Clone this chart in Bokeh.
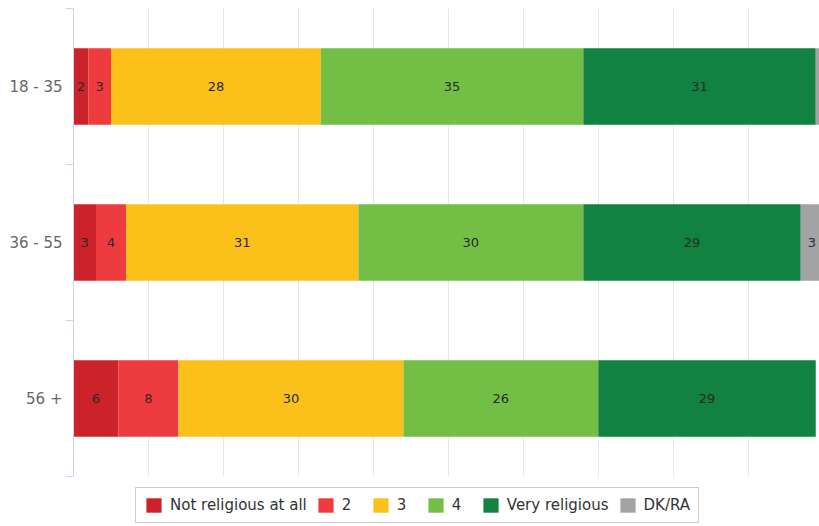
from bokeh.plotting import figure
from bokeh.models import ColumnDataSource, FixedTicker, Legend, LegendItem
from bokeh.core.properties import value
from bokeh.embed import file_html
from bokeh.resources import INLINE

categories = ["18 - 35", "36 - 55", "56 +"]
series_names = ["Not religious at all", "2", "3", "4", "Very religious", "DK/RA"]
not_religious = [2, 3, 6]
s2 = [3, 4, 8]
s3 = [28, 31, 30]
s4 = [35, 30, 26]
very_religious = [31, 29, 29]
dk_ra = [1, 3, 0]
colors = ["#cc2229", "#ee3b40", "#fbc11a", "#73bf45", "#11823f", "#a3a3a3"]

series = [not_religious, s2, s3, s4, very_religious, dk_ra]
keys = ["s%d" % i for i in range(len(series))]
n = len(categories)
ypos = [n - i - 0.5 for i in range(n)]

data = {"y": ypos}
for k, s in zip(keys, series):
    data[k] = s
src = ColumnDataSource(data)

# frame: 746 x 518 px; categories occupy the top 468 px (156 px each)
y_low = n - 518 / 156
p = figure(width=819, height=526, output_backend="svg", toolbar_location=None,
           x_range=(0, 99.5), y_range=(y_low, n), x_axis_location=None,
           min_border_left=73, min_border_right=0, min_border_top=8, min_border_bottom=0)
p.outline_line_color = None

renderers = p.hbar_stack(keys, y="y", height=0.49, color=colors, source=src,
                         line_color=None)

# labels
lx, ly, lt = [], [], []
for i in range(n):
    left = 0
    for s in series:
        v = s[i]
        if v >= 2:
            lx.append(left + v / 2)
            ly.append(ypos[i])
            lt.append(str(v))
        left += v
p.text(x=lx, y=ly, text=lt, text_align="center", text_baseline="middle",
       text_font=value("DejaVu Sans"), text_font_size="13px", text_color="#2a2a2a")

p.xgrid.ticker = FixedTicker(ticks=list(range(0, 101, 10)))
p.xgrid.grid_line_color = "#e6e6e6"
p.xgrid.cross_bounds = (0, n)
p.ygrid.grid_line_color = None

yax = p.yaxis[0]
yax.bounds = (0, n)
yax.ticker = FixedTicker(ticks=ypos, minor_ticks=list(range(0, n + 1)))
yax.major_label_overrides = {ypos[i]: categories[i] for i in range(n)}
yax.major_tick_out = 0
yax.major_tick_in = 0
yax.minor_tick_out = 8
yax.minor_tick_in = 0
yax.minor_tick_line_color = "#ccd6eb"
yax.axis_line_color = "#ccd6eb"
yax.major_label_text_color = "#666666"
yax.major_label_text_font = "DejaVu Sans"
yax.major_label_text_font_size = "15px"
yax.major_label_standoff = 3

items = [LegendItem(label=series_names[i], renderers=[renderers[i]]) for i in range(len(series))]
legend = Legend(items=items, orientation="horizontal", location=(62, 3),
                label_text_font="DejaVu Sans", label_text_font_size="15px",
                label_text_color="#333333", glyph_width=19, glyph_height=18,
                spacing=9, label_standoff=7, padding=8, margin=0,
                border_line_color="#999999", border_line_width=1,
                background_fill_color="white", background_fill_alpha=1)
p.add_layout(legend, "center")

open("out.html", "w").write(file_html(p, INLINE))
